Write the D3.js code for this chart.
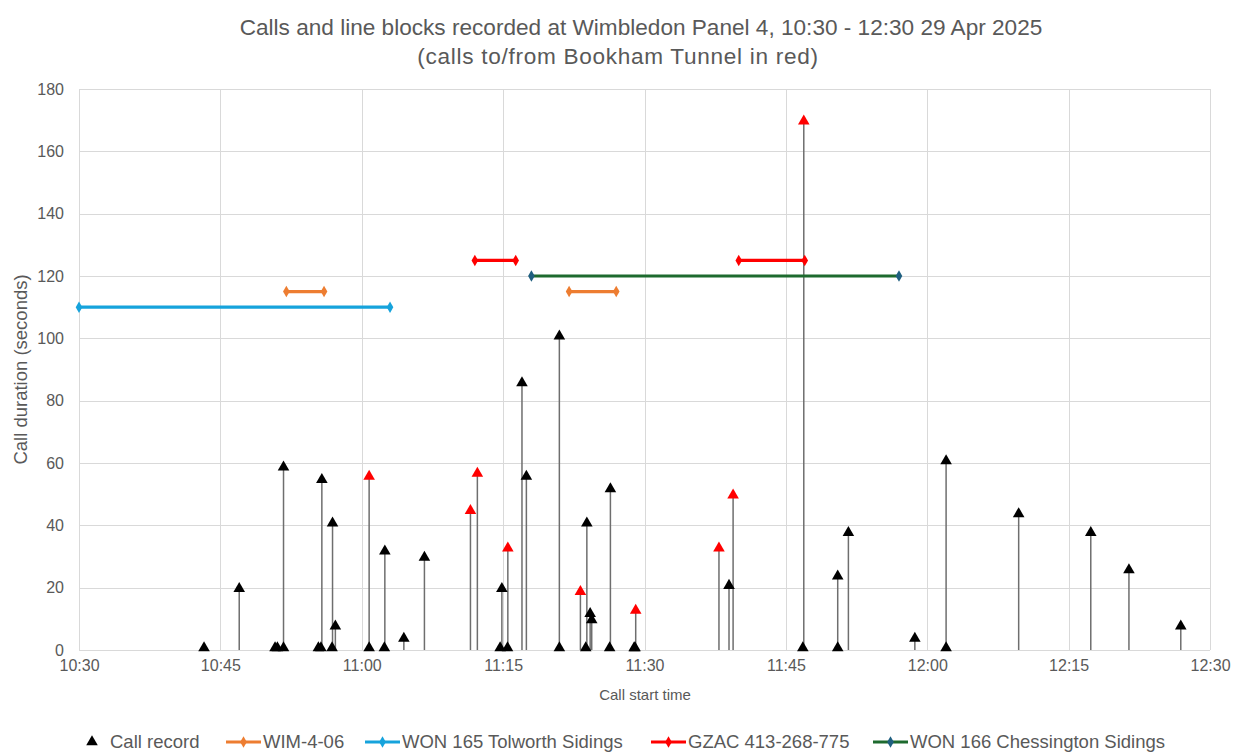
<!DOCTYPE html>
<html>
<head>
<meta charset="utf-8">
<script src="https://cdn.jsdelivr.net/npm/d3@7/dist/d3.min.js"></script>
<style>
  html, body { margin: 0; padding: 0; background: #fff; }
  svg { display: block; font-family: "Liberation Sans", Arial, sans-serif; }
</style>
</head>
<body>
<svg id="chart" width="1233" height="752"></svg>
<script>
// ---- Data ----
const titleLines = ["Calls and line blocks recorded at Wimbledon Panel 4, 10:30 - 12:30 29 Apr 2025",
                    "(calls to/from Bookham Tunnel in red)"];
const xAxisTitle = "Call start time";
const yAxisTitle = "Call duration (seconds)";
const yTicks = [0, 20, 40, 60, 80, 100, 120, 140, 160, 180];
const xTickLabels = ["10:30", "10:45", "11:00", "11:15", "11:30", "11:45", "12:00", "12:15", "12:30"];

const callTimes = ["10:43:16","10:47:00","10:50:48","10:51:03","10:51:42","10:51:42","10:55:24","10:55:40","10:55:46",
  "10:56:51","10:56:54","10:57:12","11:00:47","11:00:47","11:02:24","11:02:27","11:04:28","11:06:39",
  "11:11:32","11:12:16","11:14:41","11:14:52","11:15:28","11:15:30","11:17:00","11:17:28","11:20:58","11:20:58",
  "11:23:12","11:23:46","11:23:53","11:24:14","11:24:24","11:26:18","11:26:23","11:28:54","11:29:00","11:29:04",
  "11:37:54","11:38:58","11:39:24","11:46:48","11:46:54","11:50:30","11:50:30","11:51:38","11:58:41",
  "12:02:00","12:02:00","12:09:42","12:17:21","12:21:24","12:26:54"];
const callDurations = [1,20,1,1,1,59,1,1,55,
  1,41,8,1,56,1,32,4,30,
  45,57,1,20,1,33,86,56,1,101,
  19,1,41,12,10,1,52,1,1,13,
  33,21,50,1,170,1,24,38,4,
  1,61,44,38,26,8];
const callBookham = [0,0,0,0,0,0,0,0,0,
  0,0,0,0,1,0,0,0,0,
  1,1,0,0,0,1,0,0,0,0,
  1,0,0,0,0,0,0,0,0,1,
  1,0,1,0,1,0,0,0,0,
  0,0,0,0,0,0];

const blockNames  = ["WIM-4-06", "WON 165 Tolworth Sidings", "GZAC 413-268-775", "WON 166 Chessington Sidings"];
const blockLevels = [115, 110, 125, 120];
const blockSegments = [
  [["10:52:00","10:56:00"], ["11:22:00","11:27:00"]],
  [["10:30:00","11:03:00"]],
  [["11:12:00","11:16:20"], ["11:40:00","11:47:00"]],
  [["11:18:00","11:57:00"]]
];
const blockLineColors   = ["#ED7D31", "#16A3DC", "#FF0000", "#1D6A2E"];
const blockMarkerColors = ["#ED7D31", "#16A3DC", "#FF0000", "#1F5F80"];

// ---- Setup ----
const parse = s => d3.timeParse("%Y-%m-%d %H:%M:%S")("2025-04-29 " + s);
const svg = d3.select("#chart");
const W = 1233, H = 752;
const margin = {left: 79, right: 23, top: 89, bottom: 102};
const x = d3.scaleTime().domain([parse("10:30:00"), parse("12:30:00")]).range([margin.left, W - margin.right]);
const y = d3.scaleLinear().domain([0, 180]).range([H - margin.bottom, margin.top]);
const textColor = "#595959";
const gridColor = "#D9D9D9";

// gridlines
const xTickVals = xTickLabels.map(s => parse(s + ":00"));
svg.append("g").selectAll("line.h").data(yTicks).join("line")
  .attr("x1", margin.left).attr("x2", W - margin.right)
  .attr("y1", d => Math.round(y(d)) + 0.5).attr("y2", d => Math.round(y(d)) + 0.5)
  .attr("stroke", gridColor).attr("stroke-width", 1);
svg.append("g").selectAll("line.v").data(xTickVals).join("line")
  .attr("y1", margin.top).attr("y2", H - margin.bottom)
  .attr("x1", d => Math.round(x(d)) + 0.5).attr("x2", d => Math.round(x(d)) + 0.5)
  .attr("stroke", gridColor).attr("stroke-width", 1);

// axes (labels only)
const yAxis = d3.axisLeft(y).tickValues(yTicks).tickSize(0).tickPadding(15);
const gy = svg.append("g").attr("transform", `translate(${margin.left},0)`).call(yAxis);
gy.select(".domain").remove();
gy.selectAll("text").attr("fill", textColor).style("font-size", "16px")
  .style("font-family", "'Liberation Sans', Arial, sans-serif");

const xAxis = d3.axisBottom(x).tickValues(xTickVals).tickSize(0).tickPadding(10).tickFormat(d3.timeFormat("%H:%M"));
const gx = svg.append("g").attr("transform", `translate(0,${H - margin.bottom})`).call(xAxis);
gx.select(".domain").remove();
gx.selectAll("text").attr("fill", textColor).style("font-size", "16px")
  .style("font-family", "'Liberation Sans', Arial, sans-serif");

// title
const titleX = [641, 618];
const titleSpacing = [0, 0.7];
svg.append("g").selectAll("text").data(titleLines).join("text")
  .attr("x", (d, i) => titleX[i]).attr("y", (d, i) => 35 + i * 29)
  .attr("text-anchor", "middle").attr("fill", textColor)
  .style("letter-spacing", (d, i) => titleSpacing[i] + "px")
  .style("font-size", "22.6px").text(d => d);

// axis titles
svg.append("text").attr("x", 645).attr("y", 700).attr("text-anchor", "middle")
  .attr("fill", textColor).style("font-size", "15px").text(xAxisTitle);
svg.append("text").attr("transform", `translate(27,${(margin.top + H - margin.bottom) / 2}) rotate(-90)`)
  .attr("text-anchor", "middle").attr("fill", textColor).style("font-size", "18.5px").text(yAxisTitle);

// calls
const calls = callTimes.map((t, i) => ({t: parse(t), v: callDurations[i], red: callBookham[i] === 1}));
const tri = d3.symbol().type(d3.symbolTriangle).size(58);
const gCalls = svg.append("g");
gCalls.selectAll("line").data(calls).join("line")
  .attr("x1", d => x(d.t)).attr("x2", d => x(d.t))
  .attr("y1", y(0)).attr("y2", d => y(d.v))
  .attr("stroke", "#6E6E6E").attr("stroke-width", 1.5);

// blocks
const diamond = d3.symbol().type(d3.symbolDiamond).size(38);
blockNames.forEach((name, k) => {
  const g = svg.append("g");
  blockSegments[k].forEach(seg => {
    const x1 = x(parse(seg[0])), x2 = x(parse(seg[1])), yy = y(blockLevels[k]);
    g.append("line").attr("x1", x1).attr("x2", x2).attr("y1", yy).attr("y2", yy)
      .attr("stroke", blockLineColors[k]).attr("stroke-width", 3.2);
    [x1, x2].forEach(xx => {
      g.append("path").attr("d", diamond())
        .attr("transform", `translate(${xx},${yy})`).attr("fill", blockMarkerColors[k]);
    });
  });
});

gCalls.selectAll("path").data(calls).join("path")
  .attr("d", tri())
  .attr("transform", d => `translate(${x(d.t)},${y(d.v) + 1})`)
  .attr("fill", d => d.red ? "#FF0000" : "#000000");

// legend
const legY = 748;
const legFont = "18.5px";
const lg = svg.append("g");
lg.append("path").attr("d", tri()).attr("transform", `translate(92,${legY - 6})`).attr("fill", "#000");
lg.append("text").attr("x", 110).attr("y", legY).attr("fill", textColor).style("font-size", legFont).text("Call record");
const legX = [226, 365, 651, 873];
blockNames.forEach((name, k) => {
  const lx = legX[k];
  lg.append("line").attr("x1", lx).attr("x2", lx + 35).attr("y1", legY - 6).attr("y2", legY - 6)
    .attr("stroke", blockLineColors[k]).attr("stroke-width", 3.2);
  lg.append("path").attr("d", diamond())
    .attr("transform", `translate(${lx + 17.5},${legY - 6})`).attr("fill", blockMarkerColors[k]);
  lg.append("text").attr("x", lx + 37).attr("y", legY).attr("fill", textColor)
    .style("font-size", legFont).text(name);
});
</script>
</body>
</html>
